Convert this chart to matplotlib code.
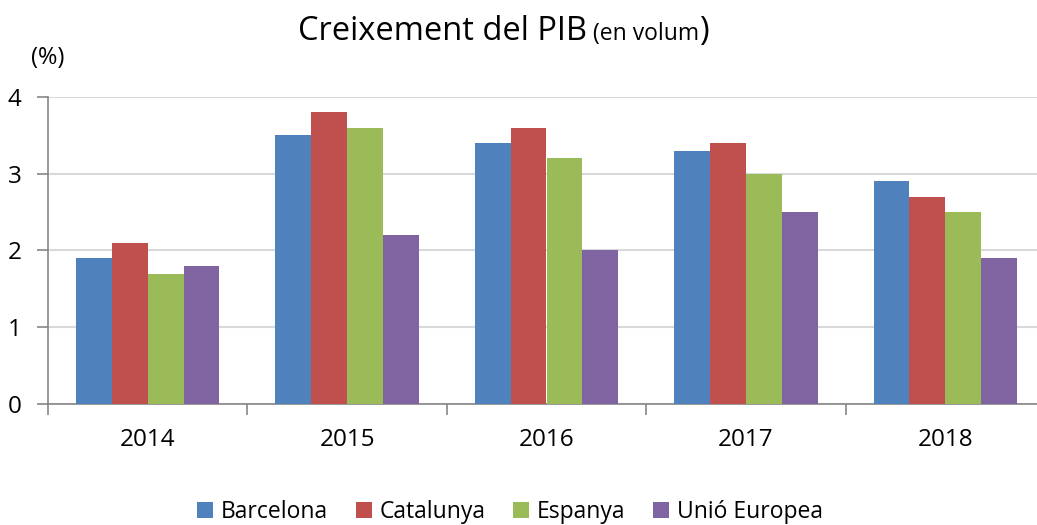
import numpy as np
import matplotlib as mpl
mpl.use('Agg')
import matplotlib.pyplot as plt
from matplotlib.ticker import FixedLocator

plt.rcParams['font.family'] = ['Open Sans', 'DejaVu Sans']

# Data
years = ['2014', '2015', '2016', '2017', '2018']
series = ['Barcelona', 'Catalunya', 'Espanya', 'Unió Europea']
barcelona = [1.9, 3.5, 3.4, 3.3, 2.9]
catalunya = [2.1, 3.8, 3.6, 3.4, 2.7]
espanya = [1.7, 3.6, 3.2, 3.0, 2.5]
ue = [1.8, 2.2, 2.0, 2.5, 1.9]
colors = ['#4F81BD', '#C0504D', '#9BBB59', '#8064A2']

fig = plt.figure(figsize=(10.37, 5.25), dpi=100, facecolor='w')
ax = fig.add_axes([48/1037, 1-404/525, 997/1037, 307/525])

x = np.arange(len(years))
w = 0.18
offsets = [-0.27, -0.09, 0.09, 0.27]
for vals, off, c, lab in zip([barcelona, catalunya, espanya, ue], offsets, colors, series):
    ax.bar(x + off, vals, width=w, color=c, edgecolor='none', label=lab, zorder=3)

ax.set_xlim(-0.5, 4.5)
ax.set_ylim(0, 4)
ax.set_yticks([0, 1, 2, 3, 4])
ax.grid(axis='y', color='#D9D9D9', lw=1.5, zorder=0)
ax.set_xticks(x)
ax.set_xticklabels(years)
ax.xaxis.set_minor_locator(FixedLocator(np.arange(-0.5, 5, 1)))
ax.tick_params(axis='x', which='major', length=0, pad=17, labelsize=17.5)
ax.tick_params(axis='x', which='minor', length=8, width=1.2, color='#868686', direction='out')
ax.tick_params(axis='y', length=8, width=1.2, color='#868686', labelsize=17.5, pad=11)
for s in ['top', 'right']:
    ax.spines[s].set_visible(False)
for s in ['left', 'bottom']:
    ax.spines[s].set_color('#868686')
    ax.spines[s].set_linewidth(1.2)

fig.text(31/1037, 1-58/525, '(%)', fontsize=17, va='center', ha='left')

# Title with mixed sizes
r = fig.canvas.get_renderer()
xpos = 298/1037
ybase = 1-40/525
for txt, fs in [('Creixement del PIB', 23.5), (' (en volum', 16.5), (')', 23.5)]:
    t = fig.text(xpos, ybase, txt, fontsize=fs, va='baseline', ha='left')
    bb = t.get_window_extent(renderer=r)
    xpos += bb.width / fig.bbox.width

fig.legend(loc='center', bbox_to_anchor=(510/1037, 1-512/525), ncol=4, frameon=False,
           fontsize=16.5, handlelength=0.7, handleheight=0.7, handletextpad=0.35,
           columnspacing=1.2)

fig.savefig('out.png', dpi=100)
